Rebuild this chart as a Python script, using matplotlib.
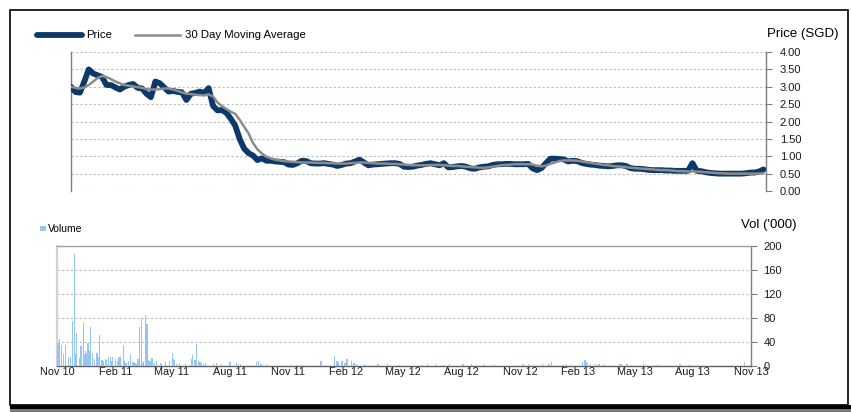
import matplotlib
matplotlib.use('Agg')
import matplotlib.pyplot as plt
import matplotlib.ticker as mticker
from matplotlib.lines import Line2D
from matplotlib.patches import Rectangle
import pandas as pd

plt.rcParams['font.family'] = ['Liberation Sans', 'DejaVu Sans']

# ---------------- data ----------------
start_date = '2010-11-01'
end_date = '2013-11-01'

# weekly closing price (SGD)
price = [3.00, 2.85, 2.83, 3.15, 3.50, 3.38, 3.33, 3.28, 3.05, 3.05,
         2.98, 2.92, 3.00, 3.05, 3.08, 2.97, 2.95, 2.80, 2.70, 3.15,
         3.10, 2.98, 2.86, 2.88, 2.85, 2.84, 2.62, 2.80, 2.82, 2.86,
         2.82, 2.96, 2.45, 2.32, 2.33, 2.25, 2.08, 1.88, 1.50, 1.22,
         1.09, 1.02, 0.89, 0.94, 0.87, 0.87, 0.85, 0.84, 0.83, 0.76,
         0.75, 0.80, 0.87, 0.86, 0.80, 0.79, 0.79, 0.80, 0.78, 0.76,
         0.72, 0.75, 0.79, 0.80, 0.85, 0.90, 0.82, 0.74, 0.76, 0.77,
         0.78, 0.79, 0.80, 0.80, 0.78, 0.70, 0.69, 0.70, 0.73, 0.75,
         0.78, 0.80, 0.77, 0.74, 0.80, 0.68, 0.69, 0.71, 0.72, 0.70,
         0.65, 0.64, 0.68, 0.70, 0.71, 0.75, 0.77, 0.77, 0.78, 0.78,
         0.77, 0.77, 0.77, 0.78, 0.65, 0.60, 0.66, 0.80, 0.93, 0.93,
         0.92, 0.91, 0.85, 0.87, 0.86, 0.81, 0.78, 0.76, 0.75, 0.73,
         0.72, 0.71, 0.72, 0.74, 0.74, 0.72, 0.66, 0.64, 0.64, 0.63,
         0.61, 0.60, 0.60, 0.60, 0.59, 0.59, 0.58, 0.58, 0.58, 0.58,
         0.80, 0.58, 0.57, 0.54, 0.52, 0.51, 0.50, 0.50, 0.50, 0.50,
         0.50, 0.50, 0.51, 0.53, 0.53, 0.56, 0.62]

# 30 day moving average (SGD)
moving_avg = [3.00, 2.97, 2.95, 2.98, 3.05, 3.15, 3.25, 3.31, 3.28, 3.22,
              3.15, 3.10, 3.05, 3.03, 3.01, 2.99, 2.97, 2.93, 2.92, 2.92,
              2.93, 2.95, 2.95, 2.92, 2.88, 2.84, 2.80, 2.79, 2.77, 2.76,
              2.75, 2.78, 2.72, 2.55, 2.44, 2.36, 2.28, 2.22, 2.05, 1.85,
              1.66, 1.38, 1.20, 1.08, 0.99, 0.94, 0.90, 0.88, 0.86, 0.85,
              0.84, 0.83, 0.82, 0.82, 0.82, 0.81, 0.81, 0.81, 0.80, 0.80,
              0.79, 0.79, 0.79, 0.80, 0.81, 0.82, 0.82, 0.81, 0.80, 0.79,
              0.79, 0.79, 0.78, 0.78, 0.77, 0.76, 0.75, 0.74, 0.74, 0.74,
              0.74, 0.75, 0.75, 0.75, 0.74, 0.73, 0.72, 0.72, 0.71, 0.70,
              0.69, 0.68, 0.67, 0.67, 0.68, 0.70, 0.72, 0.74, 0.75, 0.76,
              0.77, 0.77, 0.77, 0.77, 0.76, 0.73, 0.71, 0.73, 0.78, 0.82,
              0.86, 0.88, 0.88, 0.88, 0.87, 0.85, 0.83, 0.81, 0.79, 0.77,
              0.75, 0.74, 0.72, 0.71, 0.70, 0.69, 0.67, 0.66, 0.65, 0.64,
              0.63, 0.62, 0.61, 0.60, 0.60, 0.59, 0.58, 0.57, 0.57, 0.56,
              0.56, 0.56, 0.55, 0.54, 0.53, 0.52, 0.51, 0.51, 0.50, 0.50,
              0.50, 0.50, 0.50, 0.50, 0.50, 0.50, 0.51]

# daily traded volume ('000), days with visible volume
vol_dates = ['2010-11-01', '2010-11-03', '2010-11-05', '2010-11-08', '2010-11-11',
             '2010-11-15', '2010-11-19', '2010-11-22', '2010-11-25', '2010-11-26',
             '2010-11-29', '2010-11-30', '2010-12-02', '2010-12-06', '2010-12-07',
             '2010-12-09', '2010-12-13', '2010-12-14', '2010-12-16', '2010-12-17',
             '2010-12-20', '2010-12-23', '2010-12-24', '2010-12-27', '2010-12-30',
             '2011-01-03', '2011-01-05', '2011-01-07', '2011-01-11', '2011-01-13',
             '2011-01-17', '2011-01-18', '2011-01-21', '2011-01-24', '2011-01-26',
             '2011-01-28', '2011-02-01', '2011-02-04', '2011-02-07', '2011-02-09',
             '2011-02-14', '2011-02-16', '2011-02-18', '2011-02-22', '2011-02-25',
             '2011-03-01', '2011-03-04', '2011-03-07', '2011-03-09', '2011-03-11',
             '2011-03-14', '2011-03-16', '2011-03-18', '2011-03-21', '2011-03-23',
             '2011-03-25', '2011-03-28', '2011-03-31', '2011-04-04', '2011-04-07',
             '2011-04-13', '2011-04-15', '2011-04-21', '2011-04-28', '2011-05-02',
             '2011-05-03', '2011-05-06', '2011-05-09', '2011-05-13', '2011-05-23',
             '2011-06-02', '2011-06-03', '2011-06-07', '2011-06-09', '2011-06-13',
             '2011-06-15', '2011-06-17', '2011-06-20', '2011-06-24', '2011-07-06',
             '2011-07-11', '2011-07-19', '2011-08-01', '2011-08-12', '2011-08-15',
             '2011-08-18', '2011-09-12', '2011-09-15', '2011-09-19', '2011-09-28',
             '2011-10-21', '2011-11-14', '2011-12-06', '2011-12-23', '2012-01-13',
             '2012-01-17', '2012-01-20', '2012-01-25', '2012-01-30', '2012-02-02',
             '2012-02-09', '2012-02-13', '2012-02-17', '2012-03-01', '2012-03-22',
             '2012-04-06', '2012-04-24', '2012-05-07', '2012-06-08', '2012-06-22',
             '2012-07-13', '2012-08-03', '2012-08-17', '2012-09-04', '2012-09-21',
             '2012-11-06', '2012-11-15', '2012-12-07', '2012-12-17', '2012-12-21',
             '2013-01-08', '2013-01-14', '2013-02-08', '2013-02-12', '2013-02-14',
             '2013-02-15', '2013-02-20', '2013-03-01', '2013-03-06', '2013-03-13',
             '2013-04-08', '2013-04-11', '2013-04-19', '2013-04-25', '2013-05-15',
             '2013-05-21', '2013-06-07', '2013-07-12', '2013-07-26', '2013-10-22']
vol_values = [35, 40, 45, 35, 20,
              35, 15, 15, 75, 65,
              187, 20, 55, 13, 13,
              33, 71, 20, 25, 22,
              38, 25, 65, 22, 12,
              22, 15, 51, 10, 8,
              12, 10, 15, 15, 8,
              15, 12, 8, 15, 15,
              35, 8, 5, 8, 18,
              6, 5, 4, 12, 65,
              80, 5, 8, 85, 70,
              10, 8, 14, 5, 8,
              5, 4, 6, 8, 21,
              12, 10, 4, 5, 4,
              12, 18, 10, 37, 8,
              6, 4, 4, 5, 4,
              5, 4, 6, 5, 4,
              3, 6, 8, 4, 3,
              2, 2, 2, 8, 17,
              8, 6, 8, 5, 12,
              9, 5, 4, 3, 3,
              3, 2, 2, 3, 3,
              3, 3, 3, 3, 2,
              3, 3, 3, 4, 7,
              2, 4, 6, 10, 7,
              5, 3, 4, 3, 3,
              4, 3, 3, 2, 3,
              2, 2, 3, 2, 6]

price_ticks = [0.0, 0.5, 1.0, 1.5, 2.0, 2.5, 3.0, 3.5, 4.0]
vol_ticks = [0, 40, 80, 120, 160, 200]

# ---------------- figure ----------------
W, H = 851, 412
fig = plt.figure(figsize=(W / 100, H / 100), dpi=100)


def fx(px):
    return px / W


def fy(py):
    return 1 - py / H


week_dates = pd.date_range(start_date, periods=len(price), freq='7D')
xmin, xmax = pd.Timestamp(start_date), pd.Timestamp(end_date)

NAVY = '#0B3A6A'
GREY = '#8C8C8C'
BAR = '#94C6F5'
GRID = '#BDBDBD'
SPINE = '#7F7F7F'

# ---- price panel ----
ax_p = fig.add_axes([fx(71), fy(191), fx(766) - fx(71), fy(52) - fy(191)])
ax_p.plot(week_dates, price, color=NAVY, lw=4.2, solid_joinstyle='round',
          solid_capstyle='round', zorder=3)
ax_p.plot(week_dates, moving_avg, color=GREY, lw=1.8, zorder=4)
ax_p.set_xlim(xmin, xmax)
ax_p.set_ylim(0, 4)
ax_p.set_yticks(price_ticks)
ax_p.yaxis.set_major_formatter(mticker.FormatStrFormatter('%.2f'))
ax_p.yaxis.tick_right()
ax_p.tick_params(axis='y', direction='out', length=4, width=0.8, color=SPINE,
                 pad=6, labelsize=8, labelcolor='#1a1a1a')
ax_p.set_xticks([])
ax_p.grid(axis='y', color=GRID, linestyle=(0, (2, 2)), lw=0.8)
ax_p.set_axisbelow(True)
for s in ['top', 'bottom']:
    ax_p.spines[s].set_visible(False)
for s in ['left', 'right']:
    ax_p.spines[s].set_color(SPINE)
    ax_p.spines[s].set_linewidth(1.0)
ax_p.patch.set_alpha(0)

# ---- volume panel ----
ax_v = fig.add_axes([fx(57), fy(366), fx(751) - fx(57), fy(245.7) - fy(366)])
ax_v.bar(pd.to_datetime(vol_dates), vol_values, width=2.0, color=BAR,
         linewidth=0, zorder=3)
ax_v.set_xlim(xmin, xmax)
ax_v.set_ylim(0, 200)
ax_v.set_yticks(vol_ticks)
ax_v.yaxis.tick_right()
ax_v.tick_params(axis='y', direction='out', length=4, width=0.8, color=SPINE,
                 pad=5, labelsize=8, labelcolor='#1a1a1a')
month_ticks = pd.date_range(start_date, end_date, freq='3MS')
ax_v.set_xticks(month_ticks)
ax_v.set_xticklabels([d.strftime('%b %y') for d in month_ticks])
ax_v.tick_params(axis='x', length=0, pad=1, labelsize=7.8, labelcolor='#1a1a1a')
ax_v.grid(axis='y', color=GRID, linestyle=(0, (2, 2)), lw=0.8)
ax_v.set_axisbelow(True)
ax_v.spines['top'].set_color('#A0A0A0')
ax_v.spines['top'].set_linewidth(1.0)
ax_v.spines['bottom'].set_color('#606060')
ax_v.spines['bottom'].set_linewidth(1.0)
ax_v.spines['left'].set_color('#D2D2D2')
ax_v.spines['left'].set_linewidth(1.6)
ax_v.spines['right'].set_color(SPINE)
ax_v.spines['right'].set_linewidth(1.0)
ax_v.patch.set_alpha(0)

# ---- legends & titles ----
fig.add_artist(Line2D([fx(37), fx(82)], [fy(34.5), fy(34.5)], color=NAVY, lw=4.2,
                      solid_capstyle='round'))
fig.text(fx(86), fy(34.5), 'Price', fontsize=8.2, va='center', ha='left')
fig.add_artist(Line2D([fx(135), fx(180)], [fy(34.5), fy(34.5)], color=GREY, lw=1.8))
fig.text(fx(185), fy(34.5), '30 Day Moving Average', fontsize=8.2, va='center', ha='left')
fig.text(fx(767), fy(34.5), 'Price (SGD)', fontsize=9.5, va='center', ha='left')

fig.add_artist(Rectangle((fx(40), fy(231)), fx(6), fy(225.5) - fy(231), color=BAR, lw=0))
fig.text(fx(47.5), fy(228.5), 'Volume', fontsize=7.5, va='center', ha='left')
fig.text(fx(741), fy(225), "Vol ('000)", fontsize=9.5, va='center', ha='left')

# ---- frame ----
fig.add_artist(Rectangle((fx(10), fy(405)), fx(848) - fx(10), fy(10) - fy(405),
                         fill=False, edgecolor='black', lw=1.2))
fig.add_artist(Rectangle((fx(10), fy(409)), 1 - fx(10), fy(405) - fy(409),
                         color='black', lw=0))
fig.add_artist(Rectangle((fx(10), 0), 1 - fx(10), fy(409), color='#7A7A7A', lw=0))

fig.savefig('out.png', dpi=100)
